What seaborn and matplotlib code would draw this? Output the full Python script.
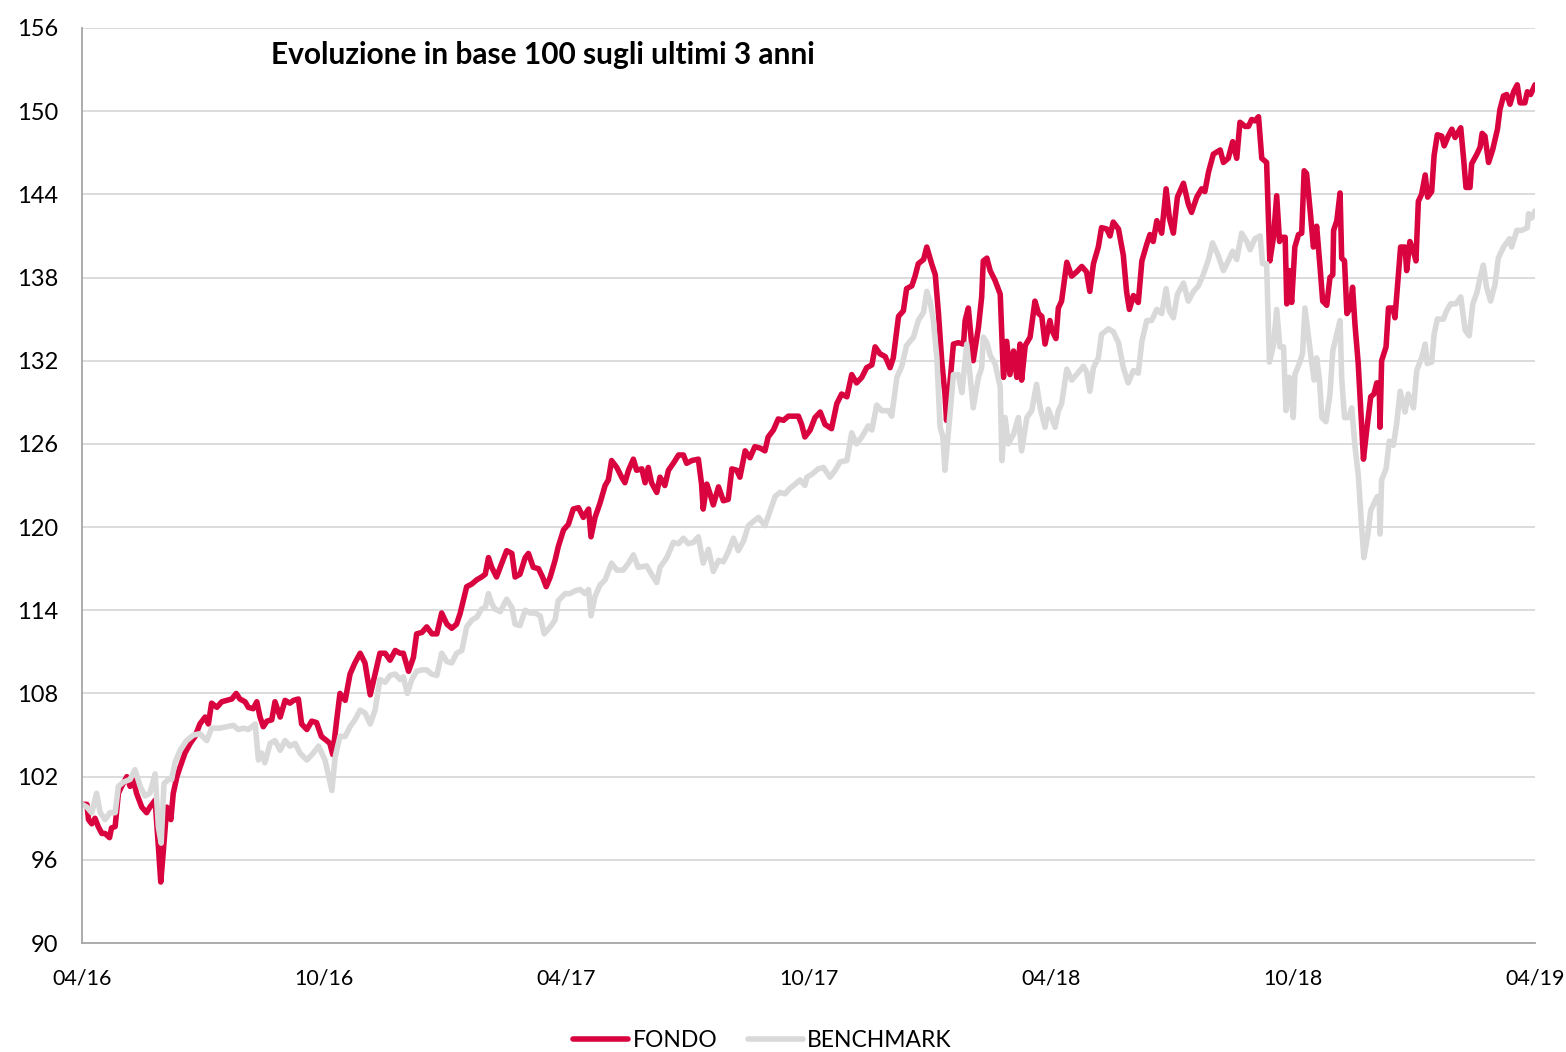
import pandas as pd
import seaborn as sns
import matplotlib.pyplot as plt

# months since 04/16 and values (base 100)
fondo_mesi = [0.00, 0.12, 0.16, 0.24, 0.32, 0.40, 0.49, 0.57, 0.68, 0.73, 0.82, 0.90, 0.98, 1.11, 1.19,
              1.27, 1.35, 1.48, 1.60, 1.68, 1.81, 1.89, 1.95, 2.01, 2.10, 2.20, 2.26, 2.35, 2.43, 2.55,
              2.68, 2.80, 2.92, 3.05, 3.13, 3.21, 3.34, 3.46, 3.58, 3.71, 3.82, 3.91, 4.04, 4.12, 4.24,
              4.33, 4.41, 4.49, 4.58, 4.70, 4.78, 4.91, 5.03, 5.15, 5.24, 5.36, 5.44, 5.57, 5.69, 5.81,
              5.93, 6.06, 6.14, 6.21, 6.31, 6.39, 6.52, 6.64, 6.76, 6.89, 7.01, 7.14, 7.26, 7.38, 7.51,
              7.63, 7.76, 7.88, 7.96, 8.09, 8.21, 8.29, 8.42, 8.54, 8.67, 8.79, 8.91, 9.04, 9.16, 9.28,
              9.37, 9.53, 9.66, 9.78, 9.90, 9.99, 10.07, 10.15, 10.27, 10.40, 10.52, 10.65, 10.73, 10.85,
              10.98, 11.06, 11.18, 11.31, 11.41, 11.50, 11.60, 11.72, 11.80, 11.93, 12.05, 12.17, 12.30,
              12.42, 12.55, 12.61, 12.71, 12.83, 12.96, 13.04, 13.12, 13.25, 13.37, 13.45, 13.54, 13.66,
              13.74, 13.87, 13.95, 14.03, 14.11, 14.24, 14.32, 14.44, 14.53, 14.65, 14.78, 14.90, 14.98,
              15.11, 15.27, 15.35, 15.39, 15.48, 15.56, 15.64, 15.77, 15.89, 16.01, 16.10, 16.22, 16.30,
              16.43, 16.55, 16.67, 16.80, 16.92, 17.00, 17.13, 17.25, 17.38, 17.50, 17.62, 17.75, 17.83,
              17.91, 18.04, 18.16, 18.29, 18.41, 18.57, 18.70, 18.82, 18.95, 19.07, 19.19, 19.32, 19.44,
              19.57, 19.65, 19.77, 19.90, 20.02, 20.10, 20.23, 20.35, 20.43, 20.56, 20.64, 20.72, 20.85,
              20.93, 21.05, 21.14, 21.22, 21.30, 21.38, 21.42, 21.51, 21.59, 21.71, 21.84, 21.88, 21.96,
              22.08, 22.21, 22.29, 22.33, 22.42, 22.50, 22.62, 22.75, 22.79, 22.83, 22.91, 22.99, 23.08,
              23.16, 23.24, 23.28, 23.37, 23.49, 23.61, 23.70, 23.78, 23.86, 23.98, 24.03, 24.13, 24.19,
              24.27, 24.40, 24.52, 24.64, 24.77, 24.89, 24.97, 25.06, 25.18, 25.26, 25.39, 25.47, 25.55,
              25.68, 25.80, 25.88, 25.95, 26.05, 26.17, 26.26, 26.38, 26.46, 26.54, 26.63, 26.75, 26.86,
              26.94, 27.04, 27.14, 27.29, 27.41, 27.49, 27.62, 27.74, 27.82, 27.91, 28.03, 28.20, 28.28,
              28.40, 28.51, 28.61, 28.69, 28.82, 28.90, 28.98, 29.06, 29.15, 29.23, 29.35, 29.43, 29.52,
              29.60, 29.67, 29.72, 29.81, 29.85, 29.91, 29.97, 30.05, 30.14, 30.22, 30.28, 30.34, 30.43,
              30.51, 30.59, 30.67, 30.74, 30.84, 30.92, 30.99, 31.01, 31.09, 31.17, 31.21, 31.28, 31.34,
              31.42, 31.48, 31.54, 31.62, 31.71, 31.75, 31.83, 31.93, 32.01, 32.08, 32.14, 32.16, 32.20,
              32.31, 32.37, 32.48, 32.53, 32.59, 32.67, 32.78, 32.82, 32.90, 32.99, 33.05, 33.11, 33.19,
              33.28, 33.34, 33.44, 33.50, 33.58, 33.69, 33.75, 33.85, 33.94, 34.02, 34.16, 34.23, 34.29,
              34.39, 34.43, 34.56, 34.64, 34.69, 34.76, 34.85, 34.95, 35.07, 35.13, 35.22, 35.30, 35.38,
              35.47, 35.56, 35.63, 35.75, 35.81, 35.89, 36.00]
fondo = [100.0, 100.0, 98.9, 98.6, 99.0, 98.4, 97.9, 97.9, 97.6, 98.3, 98.4, 100.8, 101.3, 102.0, 101.3,
         101.8, 100.8, 99.8, 99.4, 99.8, 100.3, 97.0, 94.4, 96.5, 99.8, 98.9, 100.8, 102.0, 102.7, 103.7,
         104.4, 104.9, 105.8, 106.3, 105.8, 107.3, 107.0, 107.4, 107.5, 107.6, 108.0, 107.6, 107.4, 107.0, 106.9,
         107.4, 106.3, 105.6, 106.0, 106.1, 107.4, 106.3, 107.5, 107.3, 107.5, 107.6, 105.8, 105.4, 106.0, 105.9,
         104.9, 104.6, 104.4, 103.6, 106.1, 108.0, 107.5, 109.4, 110.2, 110.9, 110.2, 107.9, 109.4, 110.9, 110.9,
         110.4, 111.1, 110.9, 110.9, 109.6, 110.6, 112.3, 112.4, 112.8, 112.3, 112.3, 113.8, 113.0, 112.7, 113.0,
         113.8, 115.7, 115.9, 116.2, 116.4, 116.6, 117.8, 117.1, 116.4, 117.4, 118.3, 118.1, 116.4, 116.6,
         117.8, 118.1, 117.1, 117.0, 116.4, 115.7, 116.4, 117.6, 118.6, 119.8, 120.2, 121.3, 121.4,
         120.7, 121.3, 119.3, 120.7, 121.7, 123.0, 123.4, 124.8, 124.3, 123.6, 123.2, 124.1, 124.9,
         124.1, 124.2, 123.2, 124.3, 123.2, 122.5, 123.6, 123.0, 124.1, 124.6, 125.2, 125.2, 124.6,
         124.8, 124.9, 123.1, 121.3, 123.1, 122.4, 121.6, 122.9, 121.9, 122.0, 124.2, 124.1, 123.6,
         125.5, 125.0, 125.8, 125.7, 125.5, 126.5, 127.0, 127.8, 127.7, 128.0, 128.0, 128.0, 127.4,
         126.5, 127.0, 127.9, 128.3, 127.4, 127.1, 128.9, 129.6, 129.4, 131.0, 130.4, 130.8, 131.5,
         131.7, 133.0, 132.5, 132.3, 131.5, 132.2, 135.2, 135.6, 137.2, 137.4, 138.1, 139.0, 139.3,
         140.2, 139.0, 138.2, 135.4, 132.0, 129.6, 127.7, 130.6, 133.2, 133.3, 133.2, 134.9, 135.8,
         132.0, 134.4, 136.6, 139.2, 139.4, 138.5, 137.8, 136.8, 133.7, 130.8, 133.4, 131.0, 132.7,
         130.8, 133.2, 130.6, 133.1, 133.7, 136.3, 135.4, 135.2, 133.2, 134.9, 134.2, 133.6, 135.8,
         136.3, 139.1, 138.1, 138.4, 138.8, 138.4, 137.0, 139.0, 140.2, 141.6, 141.5, 141.0, 142.0,
         141.5, 139.6, 137.0, 135.7, 136.7, 136.2, 139.2, 140.4, 141.1, 140.6, 142.1, 141.2, 144.4,
         142.3, 141.2, 143.8, 144.8, 143.3, 142.7, 143.8, 144.4, 144.2, 145.6, 146.9, 147.2, 146.3,
         146.6, 147.8, 146.6, 149.2, 148.9, 148.9, 149.4, 149.3, 149.6, 146.6, 146.3, 139.2, 140.9,
         143.9, 140.6, 140.9, 140.9, 136.1, 138.5, 136.2, 140.2, 141.1, 141.2, 145.7, 145.5, 142.8,
         140.2, 141.7, 138.9, 136.3, 136.0, 138.0, 138.2, 141.4, 142.1, 144.1, 139.4, 139.2, 135.4,
         135.8, 137.3, 134.6, 131.8, 127.0, 124.9, 127.0, 129.4, 129.6, 130.4, 130.4, 127.2, 132.0,
         133.0, 135.8, 135.8, 135.1, 137.3, 140.2, 140.2, 138.5, 140.6, 139.9, 139.2, 143.5, 144.0,
         145.4, 143.8, 144.2, 146.8, 148.3, 148.2, 147.5, 148.2, 148.7, 148.1, 148.8, 146.6, 144.5,
         144.5, 146.2, 146.9, 147.4, 148.4, 148.2, 146.3, 147.2, 148.7, 150.1, 151.1, 151.2, 150.5,
         151.4, 151.9, 150.6, 150.6, 151.4, 151.2, 151.9]

bench_mesi = [0.00, 0.12, 0.24, 0.36, 0.45, 0.57, 0.69, 0.82, 0.90, 1.02, 1.19, 1.31, 1.44, 1.56, 1.68,
              1.81, 1.89, 1.96, 2.03, 2.14, 2.22, 2.30, 2.43, 2.59, 2.76, 2.92, 3.09, 3.21, 3.42, 3.58,
              3.75, 3.87, 4.00, 4.12, 4.29, 4.37, 4.45, 4.53, 4.66, 4.78, 4.91, 5.03, 5.15, 5.28, 5.40,
              5.57, 5.73, 5.86, 6.02, 6.19, 6.27, 6.39, 6.52, 6.64, 6.76, 6.89, 7.01, 7.14, 7.26, 7.38,
              7.51, 7.63, 7.76, 7.88, 7.96, 8.06, 8.17, 8.29, 8.42, 8.54, 8.66, 8.79, 8.91, 9.04, 9.16,
              9.28, 9.41, 9.53, 9.66, 9.78, 9.90, 9.99, 10.07, 10.15, 10.23, 10.36, 10.52, 10.65, 10.73,
              10.85, 10.98, 11.10, 11.23, 11.35, 11.45, 11.60, 11.72, 11.80, 11.97, 12.09, 12.21, 12.34,
              12.46, 12.55, 12.61, 12.71, 12.83, 12.96, 13.12, 13.25, 13.41, 13.54, 13.66, 13.78, 13.99,
              14.11, 14.24, 14.32, 14.49, 14.65, 14.78, 14.90, 15.02, 15.15, 15.27, 15.39, 15.52, 15.64,
              15.77, 15.89, 16.01, 16.14, 16.26, 16.39, 16.51, 16.63, 16.76, 16.92, 17.05, 17.17, 17.29,
              17.42, 17.54, 17.67, 17.79, 17.91, 17.96, 18.08, 18.24, 18.37, 18.53, 18.66, 18.78, 18.95,
              19.07, 19.19, 19.32, 19.48, 19.57, 19.69, 19.81, 19.98, 20.06, 20.19, 20.31, 20.43, 20.60,
              20.72, 20.85, 20.93, 21.01, 21.09, 21.18, 21.26, 21.33, 21.38, 21.47, 21.59, 21.71, 21.80,
              21.92, 22.00, 22.08, 22.21, 22.29, 22.33, 22.42, 22.50, 22.62, 22.75, 22.79, 22.87, 22.95,
              23.08, 23.20, 23.28, 23.41, 23.53, 23.65, 23.74, 23.86, 23.94, 24.11, 24.19, 24.27, 24.40,
              24.52, 24.64, 24.81, 24.89, 24.97, 25.06, 25.18, 25.26, 25.43, 25.55, 25.68, 25.80, 25.92,
              26.05, 26.17, 26.26, 26.38, 26.50, 26.63, 26.75, 26.86, 26.94, 27.04, 27.14, 27.29, 27.41,
              27.54, 27.66, 27.78, 27.91, 28.01, 28.15, 28.28, 28.40, 28.51, 28.61, 28.73, 28.86, 28.94,
              29.06, 29.19, 29.25, 29.35, 29.42, 29.52, 29.60, 29.68, 29.77, 29.83, 29.91, 30.01, 30.05,
              30.16, 30.24, 30.30, 30.39, 30.47, 30.53, 30.59, 30.66, 30.72, 30.82, 30.92, 30.99, 31.07,
              31.17, 31.21, 31.28, 31.38, 31.46, 31.54, 31.62, 31.71, 31.76, 31.85, 31.93, 32.01, 32.09,
              32.14, 32.16, 32.20, 32.31, 32.39, 32.49, 32.57, 32.66, 32.78, 32.86, 32.99, 33.07, 33.19,
              33.28, 33.33, 33.44, 33.50, 33.58, 33.73, 33.81, 33.91, 34.04, 34.16, 34.27, 34.37, 34.46,
              34.56, 34.64, 34.72, 34.80, 34.90, 35.01, 35.09, 35.22, 35.37, 35.42, 35.55, 35.67, 35.81,
              35.84, 35.92, 36.00]
benchmark = [100.0, 99.8, 99.4, 100.8, 99.4, 98.9, 99.4, 99.4, 101.3, 101.6, 101.8, 102.5, 101.3, 100.6, 100.8,
             102.2, 98.4, 97.2, 101.5, 101.8, 101.8, 103.0, 103.9, 104.6, 105.0, 105.1, 104.6, 105.5, 105.5, 105.6,
             105.7, 105.4, 105.5, 105.4, 105.8, 103.2, 103.7, 103.0, 104.4, 104.6, 103.9, 104.6, 104.2, 104.4, 103.7,
             103.2, 103.7, 104.2, 103.2, 101.0, 103.4, 104.9, 104.9, 105.6, 106.1, 106.8, 106.6, 105.8, 106.8, 109.0,
             108.8, 109.3, 109.4, 109.0, 109.2, 108.0, 109.0, 109.6, 109.7, 109.7, 109.4, 109.3, 110.9, 110.3, 110.2,
             110.9, 111.1, 112.8, 113.3, 113.5, 114.1, 114.2, 115.2, 114.5, 114.1, 113.9, 114.8, 114.2, 113.0,
             112.9, 114.0, 113.8, 113.8, 113.6, 112.3, 112.8, 113.3, 114.7, 115.2, 115.2, 115.4, 115.5,
             115.2, 115.5, 113.6, 115.0, 115.8, 116.2, 117.4, 116.9, 116.9, 117.4, 118.0, 117.1, 117.2,
             116.6, 116.0, 117.1, 117.8, 118.9, 118.8, 119.2, 118.8, 118.9, 119.3, 117.4, 118.4, 116.8,
             117.6, 117.5, 118.2, 119.2, 118.3, 119.0, 120.1, 120.4, 120.7, 120.1, 121.2, 122.2, 122.5,
             122.4, 122.8, 123.1, 123.4, 123.0, 123.6, 123.8, 124.2, 124.3, 123.6, 124.1, 124.7, 124.8,
             126.8, 126.0, 126.5, 127.3, 127.0, 128.8, 128.4, 128.4, 128.0, 130.8, 131.6, 133.1, 133.7,
             134.9, 135.5, 137.0, 136.3, 135.0, 132.2, 127.2, 126.5, 124.1, 127.0, 131.0, 131.0, 129.7,
             133.2, 131.0, 128.6, 130.8, 131.5, 133.7, 133.3, 132.4, 131.8, 130.1, 124.8, 127.9, 126.0,
             126.7, 127.9, 125.5, 127.9, 128.4, 130.3, 128.6, 127.2, 128.5, 127.2, 128.4, 128.9, 131.4,
             130.6, 131.0, 131.6, 131.2, 129.8, 131.5, 132.2, 133.9, 134.3, 134.1, 133.3, 131.5, 130.4,
             131.3, 131.1, 133.4, 134.9, 134.9, 135.7, 135.4, 137.2, 135.6, 135.1, 136.8, 137.6, 136.3,
             137.0, 137.4, 138.2, 139.3, 140.5, 139.6, 138.5, 139.2, 139.9, 139.3, 141.2, 140.6, 140.0,
             140.8, 141.0, 139.0, 139.0, 131.9, 133.1, 135.7, 133.0, 133.0, 128.4, 130.8, 127.9, 131.0,
             131.8, 132.5, 135.8, 133.7, 131.8, 130.6, 132.2, 130.6, 127.9, 127.6, 129.6, 132.7, 133.7,
             134.9, 130.8, 127.9, 127.9, 128.6, 125.8, 123.8, 119.8, 117.8, 119.3, 121.2, 121.7, 122.2,
             122.2, 119.5, 123.4, 124.2, 126.2, 125.9, 127.4, 129.8, 128.3, 129.6, 128.6, 131.3, 132.2,
             133.2, 131.8, 131.9, 133.9, 135.0, 135.0, 135.6, 136.1, 136.1, 136.6, 134.2, 133.8, 136.1,
             136.9, 138.0, 138.9, 137.3, 136.3, 137.5, 139.4, 140.2, 140.8, 140.2, 141.4, 141.4, 141.6,
             142.6, 142.3, 142.8]

tick_mesi = [0, 6, 12, 18, 24, 30, 36]
tick_etichette = ['04/16', '10/16', '04/17', '10/17', '04/18', '10/18', '04/19']
y_ticks = [90, 96, 102, 108, 114, 120, 126, 132, 138, 144, 150, 156]

df_fondo = pd.DataFrame({'mese': fondo_mesi, 'valore': fondo})
df_bench = pd.DataFrame({'mese': bench_mesi, 'valore': benchmark})

sns.set_style('white')
plt.rcParams['font.family'] = ['Lato', 'DejaVu Sans']
plt.rcParams['text.color'] = 'black'
plt.rcParams['xtick.color'] = 'black'
plt.rcParams['ytick.color'] = 'black'

fig = plt.figure(figsize=(15.66, 10.52), dpi=100)
ax = fig.add_axes([0.0524, 0.1036, 0.9278, 0.8698])

sns.lineplot(x='mese', y='valore', data=df_fondo, ax=ax, color='#D9043F', linewidth=4.0,
             estimator=None, sort=False, label='FONDO')
sns.lineplot(x='mese', y='valore', data=df_bench, ax=ax, color='#D9D9D9', linewidth=4.0,
             estimator=None, sort=False, label='BENCHMARK')

ax.set_xlim(0, 36)
ax.set_ylim(90, 156)
ax.set_xticks(tick_mesi)
ax.set_xticklabels(tick_etichette, fontsize=15.5)
ax.set_yticks(y_ticks)
ax.set_yticklabels([str(v) for v in y_ticks], fontsize=17)
ax.set_xlabel('')
ax.set_ylabel('')

ax.yaxis.grid(True, color='#D9D9D9', linewidth=1.3)
ax.set_axisbelow(True)
for s in ['top', 'right']:
    ax.spines[s].set_visible(False)
for s in ['left', 'bottom']:
    ax.spines[s].set_color('#A6A6A6')
    ax.spines[s].set_linewidth(1.3)
ax.tick_params(axis='both', which='both', direction='out', length=6, width=1.2,
               color='#A6A6A6', labelcolor='black')
ax.tick_params(axis='x', pad=12)
ax.tick_params(axis='y', pad=11)

ax.text(0.13, 0.970, 'Evoluzione in base 100 sugli ultimi 3 anni', transform=ax.transAxes,
        fontsize=21.5, fontweight='bold', va='center', ha='left', color='black')

ax.get_legend().remove()
handles, labels = ax.get_legend_handles_labels()
fig.legend(handles, labels, loc='center', bbox_to_anchor=(0.487, 0.011), ncol=2,
           frameon=False, fontsize=16.5, handlelength=2.4, handletextpad=0.2, columnspacing=1.3,
           labelcolor='black')

plt.savefig('out.png', dpi=100)
